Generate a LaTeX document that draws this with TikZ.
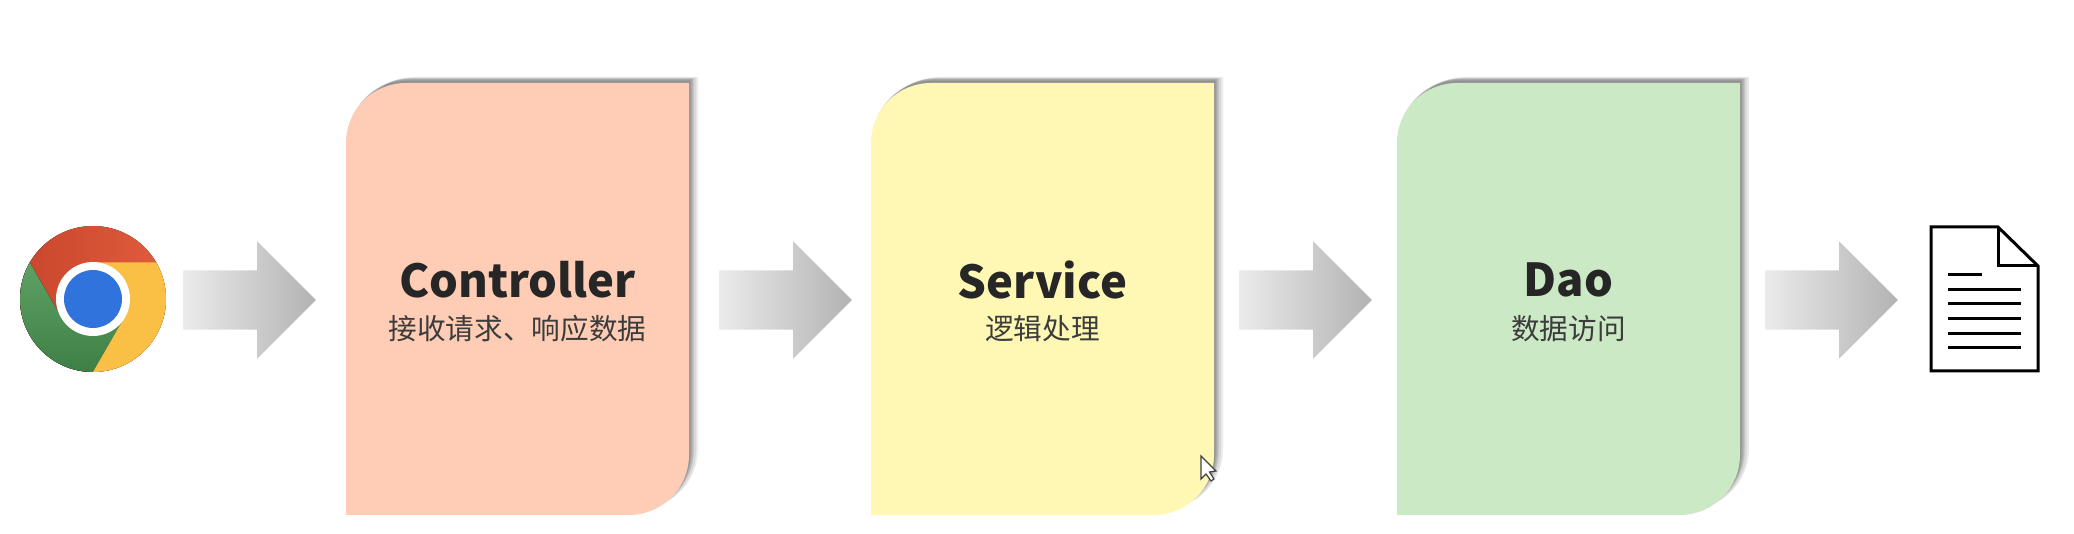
\documentclass[tikz,border=0pt]{standalone}
\usepackage{fontspec}
\setmainfont{Noto Sans CJK SC}
\usepackage{tikz}
\usetikzlibrary{shapes.arrows}
\definecolor{cardred}{HTML}{FFCDB6}
\definecolor{cardyellow}{HTML}{FFF8B4}
\definecolor{cardgreen}{HTML}{CBE9C5}
\definecolor{inktext}{HTML}{262626}
\definecolor{logored}{HTML}{C9462D}
\definecolor{logoredlight}{HTML}{E05C3C}
\definecolor{logogreen}{HTML}{5FA165}
\definecolor{logogreendark}{HTML}{3E7F45}
\definecolor{logoyellow}{HTML}{FABF45}
\definecolor{logoblue}{HTML}{3073DD}
\tikzset{
    flowarrow/.style={single arrow, anchor=tail, draw=none, inner sep=0pt, text height=0.58cm, text depth=0pt, minimum height=1.32cm,
        single arrow head extend=0.29cm, single arrow tip angle=90, left color=black!8, right color=black!30},
    cardtitle/.style={font=\fontsize{12.9}{15}\selectfont\bfseries, text=inktext, inner sep=0pt},
    cardsub/.style={font=\fontsize{8.15}{10}\selectfont, text=inktext!90, inner sep=0pt},
    docline/.style={line width=0.03cm}
}
\begin{document}
\begin{tikzpicture}[x=0.01cm,y=-0.01cm]
            \useasboundingbox (0,0) rectangle (2074,534);
            % browser logo
            \begin{scope}[shift={(93,299)},x=0.01cm,y=0.01cm]
                \fill[left color=logored, right color=logoredlight] (0,0) circle[radius=73];
                \fill[top color=logogreen, bottom color=logogreendark]
                    (-90:73) arc[start angle=-90, end angle=-210, radius=73] -- (210:36.5) -- (0,0) -- (-30:36.5) -- cycle;
                \fill[logoyellow] (90:36.5) -- (30:73) arc[start angle=30, end angle=-90, radius=73] -- (-30:36.5) -- (0,0) -- cycle;
                \fill[white] (0,0) circle[radius=37];
                \fill[logoblue] (0,0) circle[radius=29];
            \end{scope}
            % cards
            \foreach \x/\col/\name/\title/\sub in {346/cardred/ctrl/Controller/接收请求、响应数据,871/cardyellow/serv/Service/逻辑处理,1397/cardgreen/dao/Dao/数据访问} {
                \foreach \s/\t in {9/6,7/5,5/5,4/4,3/4,2/3,1/2} {
                    \fill[black, opacity=0.08] (\x+\s,515-\t) [rounded corners=0.6cm] -- (\x+\s,83-\t) [sharp corners] -- (\x+343+\s,83-\t) [rounded corners=0.6cm] -- (\x+343+\s,515-\t) [sharp corners] -- cycle;
                }
                \fill[\col] (\x,515) [rounded corners=0.6cm] -- (\x,83) [sharp corners] -- (\x+343,83) [rounded corners=0.6cm] -- (\x+343,515) [sharp corners] -- cycle;
                \node[cardtitle] (\name title) at (\x+171.5,280) {\title};
                \node[cardsub] (\name sub) at (\x+171.5,329) {\sub};
            }
            % arrows
            \node[flowarrow] (arrowA) at (183,300) {};
            \node[flowarrow] (arrowB) at (719,300) {};
            \node[flowarrow] (arrowC) at (1239,300) {};
            \node[flowarrow] (arrowD) at (1765,300) {};
            % document icon
            \draw[docline,line join=miter] (1931,227) -- (1998,227) -- (2038,266) -- (2038,371) -- (1931,371) -- cycle;
            \draw[docline] (1998,227) -- (1998,266) -- (2038,266);
            \draw[docline] (1948,275) -- (1982,275);
            \foreach \y in {290,304,319,334,348} {
                \draw[docline] (1948,\y) -- (2021,\y);
            }
            % mouse pointer
            \draw[fill=white,draw=black!75,line width=0.012cm] (1201,456) -- (1201,479) -- (1206,474) -- (1211,481) -- (1214,479) -- (1209.5,472) -- (1216,471) -- cycle;
\end{tikzpicture}
\end{document}
